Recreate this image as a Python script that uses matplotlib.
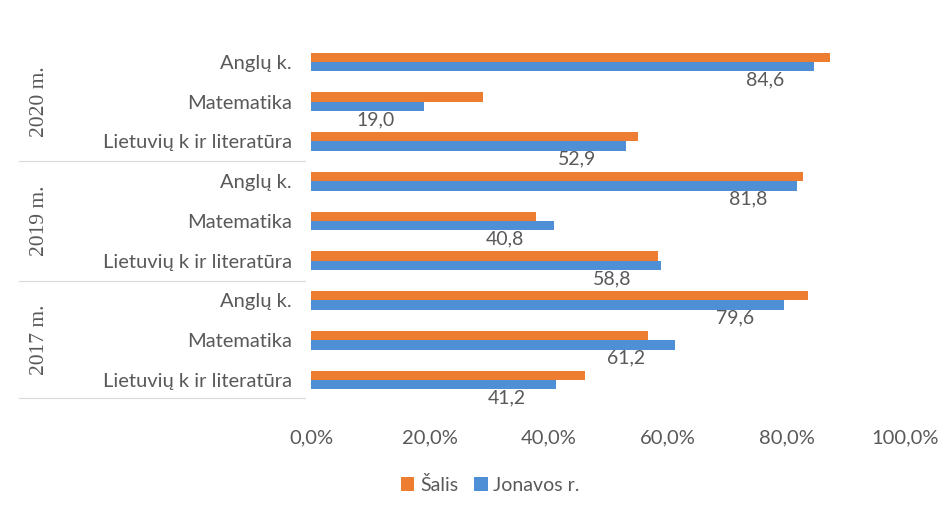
import numpy as np
import matplotlib.pyplot as plt
from matplotlib.transforms import blended_transform_factory
from matplotlib.lines import Line2D

# Data (bottom to top, as drawn on the y axis)
subjects = ["Lietuvių k ir literatūra", "Matematika", "Anglų k.",
            "Lietuvių k ir literatūra", "Matematika", "Anglų k.",
            "Lietuvių k ir literatūra", "Matematika", "Anglų k."]
years = ["2017 m.", "2019 m.", "2020 m."]
salis = [46.1, 56.6, 83.6, 58.4, 37.8, 82.8, 55.0, 28.9, 87.3]
jonava = [41.2, 61.2, 79.6, 58.8, 40.8, 81.8, 52.9, 19.0, 84.6]
x_ticks = [0, 20, 40, 60, 80, 100]
series_names = ["Šalis", "Jonavos r."]

ORANGE = "#ED7D31"
BLUE = "#4F8FD6"
GRAY = "#595959"
FONT = "Lato"


def main():
    fig = plt.figure(figsize=(9.52, 5.12), dpi=100)
    ax = fig.add_axes([0.327, 0.219, 0.624, 0.699])

    y = np.arange(len(subjects))
    h = 0.235
    ax.barh(y + h / 2, salis, height=h, color=ORANGE, label=series_names[0])
    ax.barh(y - h / 2, jonava, height=h, color=BLUE, label=series_names[1])

    # value labels under the blue bars
    for yi, v in zip(y, jonava):
        ax.text(v - 8.2, yi - h, f"{v:.1f}".replace(".", ","),
                ha="center", va="top", fontsize=14, color=GRAY, family=FONT)

    ax.set_xlim(0, 100)
    ax.set_ylim(-0.5, len(subjects) - 0.5)
    ax.set_xticks(x_ticks)
    ax.set_xticklabels([f"{t:.1f}%".replace(".", ",") for t in x_ticks],
                       fontsize=14.5, color=GRAY, family=FONT)
    ax.set_yticks(y)
    ax.set_yticklabels(subjects, fontsize=14.5, color=GRAY, family=FONT)
    ax.tick_params(axis="both", length=0)
    ax.tick_params(axis="x", pad=21)
    ax.tick_params(axis="y", pad=14)
    for s in ax.spines.values():
        s.set_visible(False)

    # year group labels and separators
    trans = blended_transform_factory(fig.transFigure, ax.transData)
    for i, yr in enumerate(years):
        fig.text(0.042, 3 * i + 1, yr, transform=trans, rotation=90, ha="center",
                 va="center", fontsize=15.5, color=GRAY, family="Liberation Serif")
    for yy in [-0.45, 2.5, 5.5]:
        fig.add_artist(Line2D([0.02, 0.32], [yy, yy], transform=trans,
                              color="#d9d9d9", lw=0.8))

    leg = fig.legend(loc="center", bbox_to_anchor=(0.515, 0.053), ncol=2,
                     frameon=False, handlelength=0.7, handleheight=0.7,
                     handletextpad=0.3, columnspacing=0.8,
                     prop={"family": FONT, "size": 14})
    for t in leg.get_texts():
        t.set_color(GRAY)

    fig.savefig("out.png", dpi=100, facecolor="white")


if __name__ == "__main__":
    main()
